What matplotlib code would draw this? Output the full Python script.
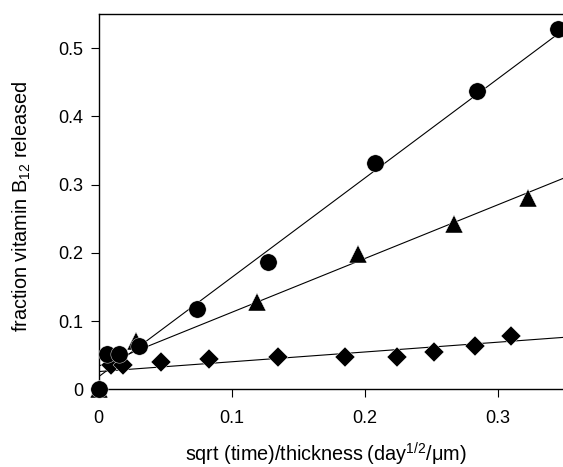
import numpy as np
import matplotlib
matplotlib.use("Agg")
import matplotlib.pyplot as plt

plt.rcParams['font.family'] = ['Liberation Sans', 'DejaVu Sans']
plt.rcParams['mathtext.fontset'] = 'custom'
plt.rcParams['mathtext.rm'] = 'Liberation Sans'
plt.rcParams['mathtext.it'] = 'Liberation Sans:italic'

# circles
circ_x = [0.0, 0.006, 0.015, 0.030, 0.074, 0.127, 0.208, 0.284, 0.345]
circ_y = [0.0, 0.052, 0.052, 0.063, 0.118, 0.187, 0.332, 0.437, 0.528]
# triangles
tri_x = [0.0, 0.028, 0.119, 0.195, 0.267, 0.323]
tri_y = [0.0, 0.071, 0.128, 0.199, 0.242, 0.280]
# diamonds
dia_x = [0.009, 0.0185, 0.047, 0.083, 0.135, 0.185, 0.2245, 0.252, 0.283, 0.310]
dia_y = [0.035, 0.035, 0.040, 0.045, 0.047, 0.047, 0.047, 0.055, 0.064, 0.078]

# fitted lines (slope, intercept)
circ_fit = (1.455, 0.0185)
tri_fit = (0.788, 0.034)
dia_fit = (0.1434, 0.026)

fig = plt.figure(figsize=(5.63, 4.67), dpi=100)
ax = fig.add_axes([98.7 / 563, 1 - 389.3 / 467, 1 - 98.7 / 563, (389.3 - 14) / 467])

xmax = 0.349
xx = np.array([0, xmax])
for m, b in [circ_fit, tri_fit, dia_fit]:
    ax.plot(xx, m * xx + b, color='black', lw=0.8)

mk = dict(ls='', color='black', mec='white', mew=0.3, clip_on=False)
ax.plot(dia_x, dia_y, marker='D', ms=10.5, zorder=3, **mk)
ax.plot(circ_x, circ_y, marker='o', ms=12.5, zorder=4, **mk)
ax.plot(tri_x, tri_y, marker='^', ms=12.5, zorder=3, **mk)

ax.set_xlim(0, xmax)
ax.set_ylim(0, 0.55)
ax.set_xticks([0, 0.1, 0.2, 0.3])
ax.set_xticklabels(['0', '0.1', '0.2', '0.3'])
ax.set_yticks([0, 0.1, 0.2, 0.3, 0.4, 0.5])
ax.set_yticklabels(['0', '0.1', '0.2', '0.3', '0.4', '0.5'])
ax.tick_params(direction='out', length=6, width=0.8, labelsize=13)
ax.tick_params(axis='x', pad=9)
ax.tick_params(axis='y', pad=5)
ax.spines['right'].set_visible(False)
for s in ['left', 'bottom', 'top']:
    ax.spines[s].set_linewidth(1.0)

fig.text(22 / 563, 1 - 206 / 467, r'fraction vitamin B$_{\mathregular{12}}$ released',
         rotation=90, ha='center', va='center', fontsize=14.3)
fig.text(326 / 563, 1 - 462 / 467, 'sqrt (time)/thickness\u2009(day$^{\\mathregular{1/2}}$/μm)',
         ha='center', va='baseline', fontsize=14.3)

fig.savefig('out.png', dpi=100)
